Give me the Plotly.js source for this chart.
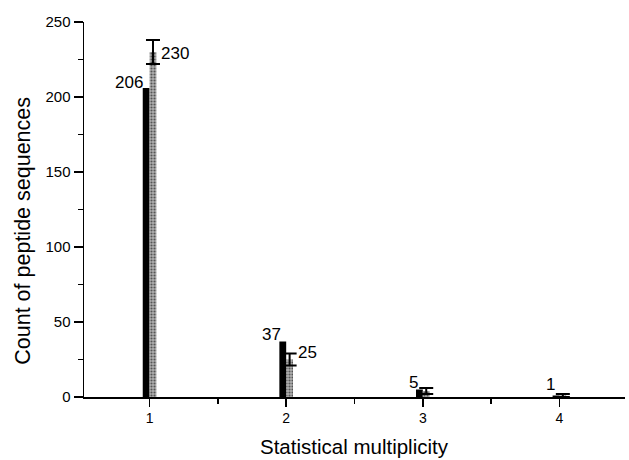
<!DOCTYPE html>
<html>
<head>
<meta charset="utf-8">
<script src="https://cdn.plot.ly/plotly-3.0.1.min.js"></script>
<style>html,body{margin:0;padding:0;background:#fff;}#chart{width:629px;height:460px;}</style>
</head>
<body>
<div id="chart"></div>
<script>
var categories = [1, 2, 3, 4];
var blackValues = [206, 37, 5, 1];
var grayValues = [230, 25, 4, 1];
var grayErrors = [8, 4, 2, 1];
var blackLabels = ["206", "37", "5", "1"];
var grayLabels = ["230", "25", "", ""];
var xTitle = 'Statistical multiplicity';
var yTitle = 'Count of peptide sequences';

var bw = 0.05;
var traces = [
  {type: 'bar', x: categories, y: blackValues, width: bw, offset: -bw,
   marker: {color: '#000000', line: {width: 0}}, hoverinfo: 'skip'},
  {type: 'bar', x: categories, y: grayValues, width: bw, offset: 0,
   marker: {color: '#9a9a9a', line: {width: 0},
            pattern: {shape: '.', fgcolor: '#555555', bgcolor: '#b0b0b0', size: 3, solidity: 0.4}},
   error_y: {type: 'data', array: grayErrors, visible: true, color: '#000', thickness: 2, width: 7},
   hoverinfo: 'skip'}
];

var ann = [];
var lf = {family: 'Liberation Sans, Arial, sans-serif', size: 17, color: '#000'};
ann.push({x: categories[0] - bw, y: blackValues[0], text: blackLabels[0], showarrow: false,
  xanchor: 'right', yanchor: 'middle', yshift: 6, xshift: 2, font: lf});
for (var i = 1; i < categories.length; i++) {
  ann.push({x: categories[i] - bw, y: blackValues[i], text: blackLabels[i], showarrow: false,
    xanchor: 'right', yanchor: 'bottom', xshift: 4, yshift: (i === 3 ? 0 : -4), font: lf});
}
for (var j = 0; j < 2; j++) {
  ann.push({x: categories[j] + bw, y: grayValues[j], text: grayLabels[j], showarrow: false,
    xanchor: 'left', yanchor: 'middle', xshift: 3, yshift: (j === 0 ? -1 : 7), font: lf});
}
// axis titles
ann.push({xref: 'paper', yref: 'paper', x: 0.5, y: -0.133, text: xTitle, showarrow: false,
  xanchor: 'center', yanchor: 'middle', font: {size: 20.5, color: '#000'}});
ann.push({xref: 'paper', yref: 'paper', x: -0.113, y: 0.443, text: yTitle, showarrow: false,
  textangle: -90, xanchor: 'center', yanchor: 'middle', font: {size: 21.5, color: '#000'}});

var layout = {
  width: 629, height: 460,
  margin: {l: 84, r: 4, t: 22, b: 63},
  paper_bgcolor: '#fff', plot_bgcolor: '#fff',
  showlegend: false,
  font: {family: 'Liberation Sans, Arial, sans-serif', color: '#000'},
  xaxis: {
    range: [0.52, 4.48], tickvals: categories, ticktext: categories.map(String),
    ticks: 'outside', ticklen: 8, tickwidth: 1.5, tickcolor: '#000',
    showline: true, linecolor: '#000', linewidth: 1.5, showgrid: false, zeroline: false,
    tickfont: {size: 14},
    minor: {tickvals: [1.5, 2.5, 3.5], ticks: 'outside', ticklen: 5, tickwidth: 1.5, tickcolor: '#000', showgrid: false}
  },
  yaxis: {
    range: [0, 250], tickvals: [0, 50, 100, 150, 200, 250],
    ticks: 'outside', ticklen: 9, tickwidth: 1.5, tickcolor: '#000',
    showline: true, linecolor: '#000', linewidth: 1.5, showgrid: false, zeroline: false,
    tickfont: {size: 15},
    minor: {tickvals: [25, 75, 125, 175, 225], ticks: 'outside', ticklen: 5, tickwidth: 1.5, tickcolor: '#000', showgrid: false}
  },
  annotations: ann
};

Plotly.newPlot('chart', traces, layout, {displayModeBar: false, staticPlot: true});
</script>
</body>
</html>
